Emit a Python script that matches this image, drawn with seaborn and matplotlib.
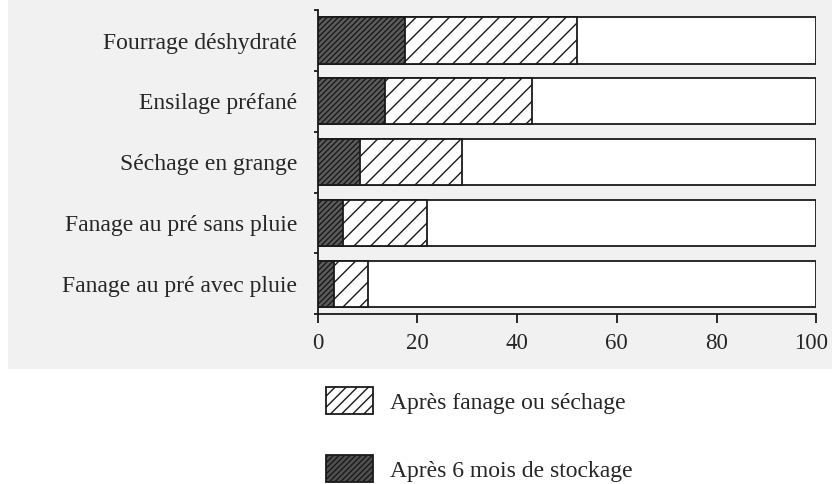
import matplotlib
matplotlib.use('Agg')
import matplotlib.pyplot as plt
import matplotlib.transforms as mtransforms
import seaborn as sns
import pandas as pd
from matplotlib.patches import Patch, Rectangle

# données (en % de la valeur initiale)
methodes = ['Fourrage déshydraté', 'Ensilage préfané', 'Séchage en grange',
            'Fanage au pré sans pluie', 'Fanage au pré avec pluie']
apres_fanage = [52, 43, 29, 22, 10]
apres_stockage = [17.5, 13.5, 8.5, 5, 3.3]
total = [100, 100, 100, 100, 100]

df = pd.DataFrame({'methode': methodes, 'fanage': apres_fanage,
                   'stockage': apres_stockage, 'total': total})

sns.set_style('white')
plt.rcParams['font.family'] = ['Liberation Serif', 'DejaVu Serif']
plt.rcParams['hatch.linewidth'] = 1.0

fig = plt.figure(figsize=(8.32, 4.84), dpi=100, facecolor='white')
# fond gris clair de la page scannée
fig.patches.append(Rectangle((0.0096, 0.2376), 1, 0.77, transform=fig.transFigure,
                             facecolor='#f1f1f1', edgecolor='none', zorder=-10))
ax = fig.add_axes([0.382, 0.351, 0.599, 0.628])
ax.set_facecolor('none')

common = dict(y='methode', data=df, orient='h', width=0.76, saturation=1,
              edgecolor='#1a1a1a', linewidth=1.3, ax=ax)
sns.barplot(x='total', color='white', **common)
sns.barplot(x='fanage', color='white', hatch='//', **common)
sns.barplot(x='stockage', color='#5c5c5c', hatch='//////', **common)

ax.set_xlim(0, 100)
ax.set_ylim(4.5, -0.5)
ax.set_xlabel('')
ax.set_ylabel('')
ax.set_xticks([0, 20, 40, 60, 80, 100])
ax.set_yticks(range(len(methodes)))
ax.set_yticks([i - 0.5 for i in range(len(methodes) + 1)], minor=True)
ax.set_yticklabels(methodes)

for s in ['top', 'right']:
    ax.spines[s].set_visible(False)
for s in ['left', 'bottom']:
    ax.spines[s].set_color('#1a1a1a')
    ax.spines[s].set_linewidth(1.3)

ax.tick_params(axis='x', direction='out', length=6.5, width=1.3, color='#1a1a1a',
               labelsize=16.5, pad=7, bottom=True)
ax.tick_params(axis='y', which='major', length=0, labelsize=17, pad=15)
ax.tick_params(axis='y', which='minor', direction='out', length=3, width=1.3,
               color='#1a1a1a', left=True)

# le dernier libellé « 100 » est un peu décalé vers la gauche
last = ax.get_xticklabels()[-1]
last.set_transform(last.get_transform() +
                   mtransforms.ScaledTranslation(-5 / 100, 0, fig.dpi_scale_trans))

handles = [Patch(facecolor='white', edgecolor='#1a1a1a', hatch='///',
                 linewidth=1.3, label='Après fanage ou séchage'),
           Patch(facecolor='#505050', edgecolor='#1a1a1a', hatch='//////',
                 linewidth=1.3, label='Après 6 mois de stockage')]
fig.legend(handles=handles, loc='upper left', bbox_to_anchor=(0.392, 0.2),
           frameon=False, fontsize=17, handlelength=2.0, handleheight=1.4,
           handletextpad=0.7, labelspacing=1.72, borderpad=0, borderaxespad=0)

fig.savefig('out.png', dpi=100)
